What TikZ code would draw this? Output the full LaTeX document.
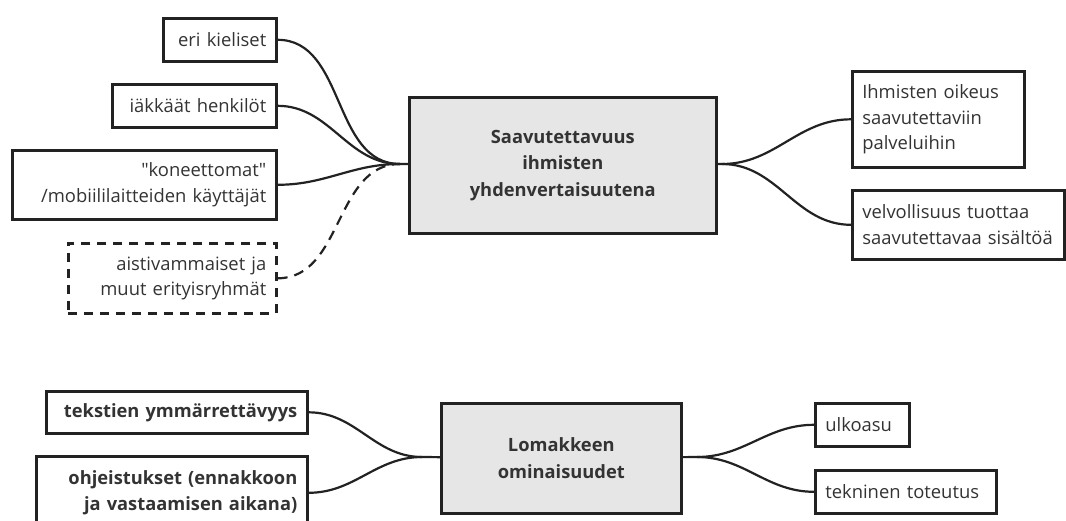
\documentclass[tikz,border=0pt]{standalone}
\usepackage{fontspec}
\setmainfont{Open Sans}
\usetikzlibrary{arrows}

\definecolor{boxline}{HTML}{222222}
\definecolor{boxtext}{HTML}{333333}
\definecolor{topicfill}{HTML}{E6E6E6}

\begin{document}
\begin{tikzpicture}[x=1pt,y=-1pt,
                    box/.style={draw=boxline,line width=2.6pt,inner xsep=10pt,inner ysep=0pt,
                                anchor=north west,text=boxtext,
                                font=\fontsize{18.4}{25.5}\selectfont},
                    leftbox/.style={box,align=right},
                    rightbox/.style={box,align=left},
                    boldtext/.style={font=\fontsize{18.3}{26.5}\selectfont\bfseries},
                    topic/.style={box,fill=topicfill,align=center,boldtext},
                    link/.style={line width=2.2pt,boxline}]

  \useasboundingbox (0,0) rectangle (1066,520);

  \node[leftbox,text width=93,minimum height=43]  (eri)  at (162,17)  {eri kieliset};
  \node[leftbox,text width=144,minimum height=43] (iak)  at (111,83)  {iäkkäät henkilöt};
  \node[leftbox,text width=244,minimum height=69] (kon)  at (11,149)
       {\textquotedbl koneettomat\textquotedbl\\/mobiililaitteiden käyttäjät};
  \node[leftbox,text width=188,minimum height=70,dash pattern=on 9pt off 7pt] (aist) at (67,242)
       {aistivammaiset ja\\muut erityisryhmät};
  \node[topic,text width=287,minimum height=136] (saav) at (408,96)
       {Saavutettavuus\\ihmisten\\yhdenvertaisuutena};
  \node[rightbox,text width=152,minimum height=96] (oik)  at (851,70)
       {Ihmisten oikeus\\saavutettaviin\\palveluihin};
  \node[rightbox,text width=192,minimum height=69] (velv) at (851,189)
       {velvollisuus tuottaa\\saavutettavaa sisältöä};

  \node[leftbox,boldtext,text width=241,minimum height=42] (teks) at (45,390)
       {tekstien ymmärrettävyys};
  \node[leftbox,boldtext,text width=251,minimum height=73] (ohje) at (35,455)
       {ohjeistukset (ennakkoon\\ja vastaamisen aikana)};
  \node[topic,text width=220,minimum height=110] (lom)  at (440,402) {Lomakkeen\\ominaisuudet};
  \node[rightbox,text width=74,minimum height=43]  (ulko) at (814,402) {ulkoasu};
  \node[rightbox,text width=161,minimum height=43] (tekn) at (814,469) {tekninen toteutus};

  \coordinate (j1) at (400,164);
  \coordinate (j2) at (722,164);
  \coordinate (j3) at (422,457);
  \coordinate (j4) at (697,457);

  \path[link] (eri)  edge [out=0,in=180] (j1)
              (iak)  edge [out=0,in=180] (j1)
              (kon)  edge [out=0,in=180] (j1)
              (aist) edge [out=0,in=180,dash pattern=on 10pt off 7pt] (j1)
              (j1)   edge (saav)
              (saav) edge (j2)
              (j2)   edge [out=0,in=180] (oik)
                     edge [out=0,in=180] (velv);

  \path[link] (teks) edge [out=0,in=180] (j3)
              (ohje) edge [out=0,in=180] (j3)
              (j3)   edge (lom)
              (lom)  edge (j4)
              (j4)   edge [out=0,in=180] (ulko)
                     edge [out=0,in=180] (tekn);
\end{tikzpicture}
\end{document}
